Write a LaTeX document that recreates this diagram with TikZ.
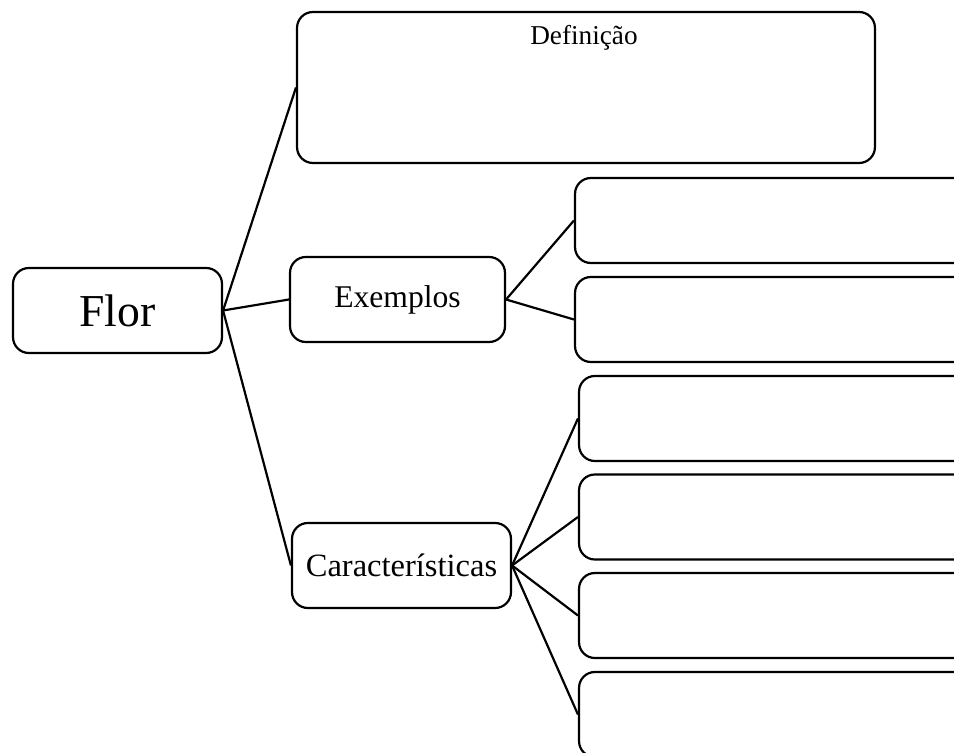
\documentclass[tikz,border=0pt]{standalone}
\usepackage{fontspec}
\setmainfont{Liberation Serif}
\usepackage{tikz}
\usetikzlibrary{positioning}
\tikzset{
  box/.style={rectangle, draw=black, fill=white, rounded corners=9pt,
    line width=1.25pt, align=center, inner sep=0pt, font=\fontsize{18}{21}\selectfont},
  bigbox/.style={box, minimum width=4.18cm, minimum height=1.7cm,
    font=\fontsize{26}{30}\selectfont},
  midbox/.style={box, minimum height=1.7cm},
  leafbox/.style={box, minimum width=8.4cm, minimum height=1.7cm},
  line/.style={line width=1.25pt, color=black}
}
\begin{document}
\begin{tikzpicture}[x=0.02cm, y=-0.02cm]
  \clip (0,0) rectangle (954,753);
  \fill[white] (0,0) rectangle (954,753);

  % Root
  \node[bigbox] (flor) at (117.5, 310.5) {Flor};

  % Branches
  \node[box, minimum width=11.56cm, minimum height=3.02cm] (defin) at (586, 87.5) {};
  \node[font=\fontsize{15.5}{18}\selectfont, anchor=north, inner sep=0pt] (defin_lbl) at (584, 25) {Definição};
  \node[midbox, minimum width=4.3cm] (exem) at (397.5, 299.5) {Exemplos};
  \node[midbox, minimum width=4.38cm, font=\fontsize{18.5}{21}\selectfont] (carac) at (401.5, 565.5) {Características};

  % Leaves of Exemplos
  \node[leafbox] (exem_a) at (785, 220.5) {};
  \node[leafbox] (exem_b) at (785, 319.5) {};

  % Leaves of Caracteristicas
  \node[leafbox] (carac_a) at (789, 418.5) {};
  \node[leafbox] (carac_b) at (789, 517) {};
  \node[leafbox] (carac_c) at (789, 615.5) {};
  \node[leafbox] (carac_d) at (789, 714.5) {};

  % Connections
  \draw[line] (flor.east) -- (defin.west);
  \draw[line] (flor.east) -- (exem.west);
  \draw[line] (flor.east) -- (carac.west);

  \draw[line] (exem.east) -- (exem_a.west);
  \draw[line] (exem.east) -- (exem_b.west);

  \draw[line] (carac.east) -- (carac_a.west);
  \draw[line] (carac.east) -- (carac_b.west);
  \draw[line] (carac.east) -- (carac_c.west);
  \draw[line] (carac.east) -- (carac_d.west);
\end{tikzpicture}
\end{document}
